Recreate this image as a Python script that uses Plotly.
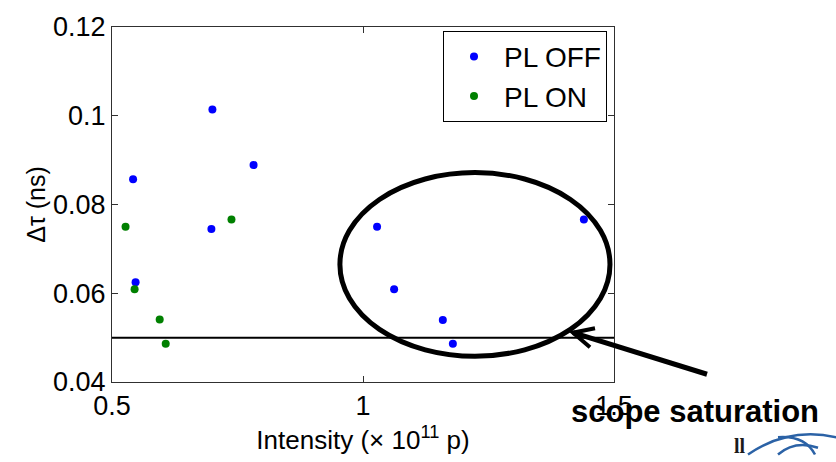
import plotly.graph_objects as go

# Measured bunch-length change vs. intensity
pl_off_intensity = [0.542, 0.700, 0.782, 0.698, 0.547, 1.028, 1.062, 1.159, 1.179, 1.440]
pl_off_dtau = [0.0857, 0.1014, 0.0889, 0.0745, 0.0625, 0.0750, 0.0609, 0.0540, 0.0486, 0.0766]

pl_on_intensity = [0.527, 0.738, 0.545, 0.595, 0.607]
pl_on_dtau = [0.0750, 0.0766, 0.0609, 0.0541, 0.0486]

saturation_level = 0.05
x_ticks = [0.5, 1, 1.5]
y_ticks = [0.04, 0.06, 0.08, 0.1, 0.12]

W, H = 836, 462
L, R, T, B = 112, 222, 21, 74
PW, PH = W - L - R, H - T - B


def px(x):
    return (x - L) / PW


def py(y):
    return (H - B - y) / PH


FONT = "Liberation Sans, Arial, sans-serif"

fig = go.Figure()
fig.add_trace(go.Scatter(
    x=pl_off_intensity, y=pl_off_dtau, mode="markers", name="PL OFF",
    marker=dict(color="#0000ff", size=8, symbol="circle"),
))
fig.add_trace(go.Scatter(
    x=pl_on_intensity, y=pl_on_dtau, mode="markers", name="PL ON",
    marker=dict(color="#008000", size=8, symbol="circle"),
))

axis_common = dict(
    showgrid=False, zeroline=False, showline=True, linecolor="#303030",
    linewidth=1, mirror="ticks", ticks="inside", ticklen=6, tickcolor="#303030",
    tickfont=dict(family=FONT, size=27, color="black"),
)

fig.update_xaxes(
    range=[0.5, 1.5], tickvals=x_ticks, ticktext=["0.5", "1", "1.5"],
    title=dict(text="Intensity (\u00d7 10<sup>11</sup> p)",
               font=dict(family=FONT, size=26, color="black"), standoff=10),
    **axis_common,
)
fig.update_yaxes(
    range=[0.04, 0.12], tickvals=y_ticks,
    ticktext=["0.04", "0.06", "0.08", "0.1", "0.12"],
    title=dict(text="\u0394\u03c4 (ns)",
               font=dict(family=FONT, size=25, color="black"), standoff=0),
    **axis_common,
)

# Saturation threshold
fig.add_shape(type="line", xref="paper", yref="y", x0=0, x1=1,
              y0=saturation_level, y1=saturation_level,
              line=dict(color="black", width=2), layer="above")

# Ellipse around the saturated points
fig.add_shape(type="circle", xref="x", yref="y",
              x0=0.954, x1=1.492, y0=0.0458, y1=0.0872,
              line=dict(color="black", width=5), layer="above")

# Arrow pointing at the saturation line
tip = (573, 337)
fig.add_shape(type="path", xref="paper", yref="paper",
              path=f"M {px(707)} {py(380)} L {px(tip[0])} {py(tip[1])}",
              line=dict(color="black", width=5), layer="above")
fig.add_shape(type="path", xref="paper", yref="paper",
              path=(f"M {px(595)} {py(332.5)} L {px(tip[0])} {py(tip[1])} "
                    f"L {px(590)} {py(352)}"),
              line=dict(color="black", width=4), layer="above")

fig.add_annotation(text="<b>scope saturation</b>", xref="paper", yref="paper",
                   x=px(694.5), y=py(418), xanchor="center", yanchor="middle",
                   showarrow=False,
                   font=dict(family=FONT, size=31, color="black"))

# Logo fragment in the corner
fig.add_annotation(text="<b>ll</b>", xref="paper", yref="paper",
                   x=px(740), y=py(454), xanchor="center", yanchor="middle",
                   showarrow=False,
                   font=dict(family="Liberation Serif, serif", size=20, color="#1a1a1a"))
for path in [
    f"M {px(748)} {py(463)} Q {px(790)} {py(433)} {px(840)} {py(446)}",
    f"M {px(778)} {py(445)} Q {px(805)} {py(443)} {px(815)} {py(463)}",
    f"M {px(778)} {py(463)} Q {px(795)} {py(448)} {px(818)} {py(456)}",
]:
    fig.add_shape(type="path", xref="paper", yref="paper", path=path,
                  line=dict(color="#2b62a6", width=2.5), layer="above")

fig.update_layout(
    width=W, height=H,
    margin=dict(l=L, r=R, t=T, b=B),
    paper_bgcolor="white", plot_bgcolor="white",
    showlegend=True,
    legend=dict(x=px(607), y=py(25), xanchor="right", yanchor="top",
                bgcolor="white", bordercolor="black", borderwidth=1,
                font=dict(family=FONT, size=28, color="black"),
                itemwidth=50, tracegroupgap=0),
)

fig.write_html("out.html")
